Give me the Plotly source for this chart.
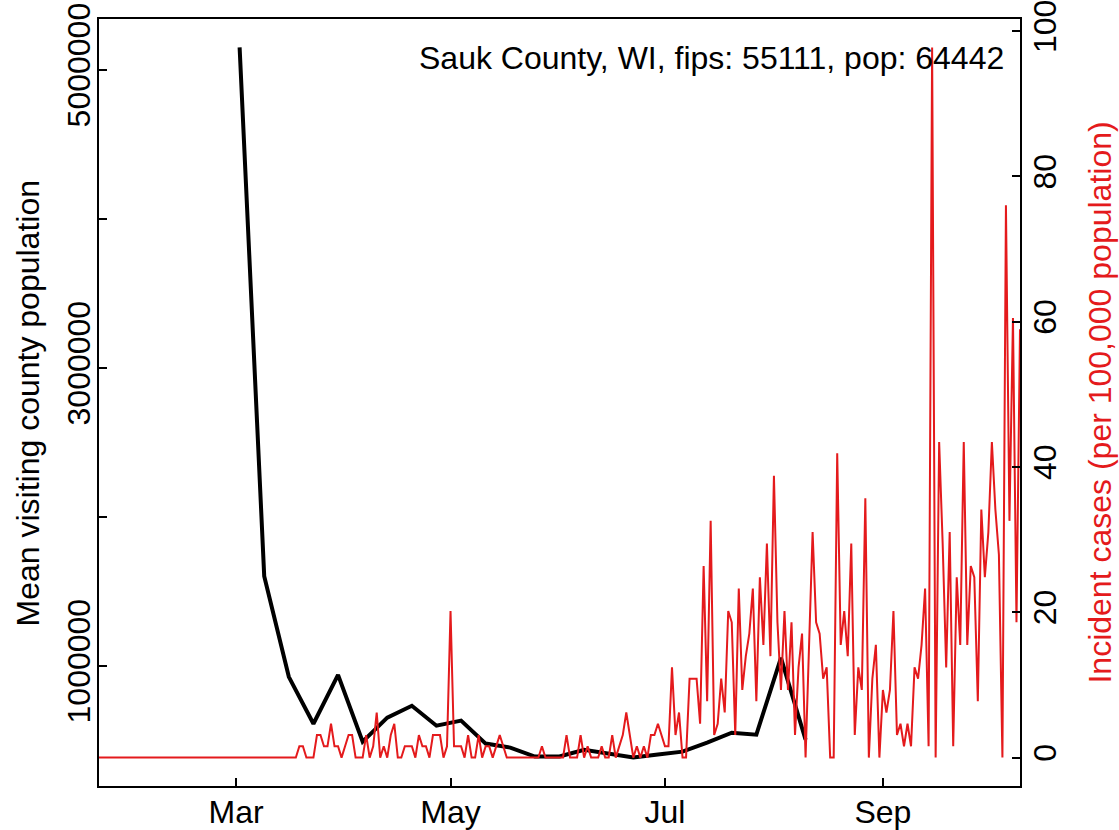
import pandas as pd
import plotly.graph_objects as go

county_label = "Sauk County, WI, fips: 55111, pop: 64442"
county_pop = 64442

# weekly mean visiting county population (week starting Monday)
visit_dates = [
    "2020-03-02", "2020-03-09", "2020-03-16", "2020-03-23", "2020-03-30",
    "2020-04-06", "2020-04-13", "2020-04-20", "2020-04-27", "2020-05-04",
    "2020-05-11", "2020-05-18", "2020-05-25", "2020-06-01", "2020-06-08",
    "2020-06-15", "2020-06-22", "2020-06-29", "2020-07-06", "2020-07-13",
    "2020-07-20", "2020-07-27", "2020-08-03", "2020-08-10",
]
visit_pop = [
    5151000, 1603000, 927000, 612000, 940000,
    492000, 653000, 733000, 599000, 633000,
    479000, 452000, 392000, 392000, 438000,
    412000, 385000, 405000, 425000, 485000,
    552000, 539000, 1054000, 505000,
]

# daily new cases, 2020-01-22 .. 2020-10-10
case_start = "2020-01-22"
cases_jan = [0, 0, 0, 0, 0, 0, 0, 0, 0, 0]
cases_feb = [0, 0, 0, 0, 0, 0, 0, 0, 0, 0, 0, 0, 0, 0, 0,
             0, 0, 0, 0, 0, 0, 0, 0, 0, 0, 0, 0, 0, 0]
cases_mar = [0, 0, 0, 0, 0, 0, 0, 0, 0, 0, 0, 0, 0, 0, 0, 0, 0, 0,
             1, 1, 0, 0, 0, 2, 2, 1, 1, 3, 1, 1, 0]
cases_apr = [1, 2, 2, 0, 0, 0, 2, 0, 1, 4, 0, 1, 0, 2, 3,
             0, 0, 1, 1, 1, 0, 2, 1, 1, 0, 2, 2, 2, 0, 1]
cases_may = [13, 1, 1, 1, 0, 2, 0, 0, 2, 0, 1, 1, 0, 1, 2, 1,
             0, 0, 0, 0, 0, 0, 0, 0, 0, 0, 1, 0, 0, 0, 0]
cases_jun = [0, 0, 2, 0, 0, 0, 2, 0, 1, 0, 0, 0, 1, 0, 0,
             2, 0, 1, 2, 4, 2, 0, 1, 0, 1, 0, 2, 2, 3, 2]
cases_jul = [1, 1, 8, 2, 4, 0, 0, 7, 7, 7, 3, 17, 5, 21, 2, 3,
             7, 4, 13, 12, 2, 15, 6, 9, 11, 15, 5, 16, 10, 19, 9]
cases_aug = [25, 12, 6, 13, 6, 12, 2, 8, 11, 0, 10, 20, 12, 11, 7, 8,
             0, 0, 27, 10, 13, 9, 19, 2, 8, 6, 23, 0, 7, 10, 0]
cases_sep = [6, 4, 6, 13, 2, 3, 1, 3, 1, 8, 7, 10, 15, 1, 63,
             0, 28, 19, 8, 20, 1, 16, 10, 28, 10, 17, 16, 5, 22, 16]
cases_oct = [20, 28, 22, 18, 0, 49, 21, 39, 12, 38]

month_ticks = ["2020-03-01", "2020-05-01", "2020-07-01", "2020-09-01"]
month_labels = ["Mar", "May", "Jul", "Sep"]
left_ticks = [1000000, 2000000, 3000000, 4000000, 5000000]
left_labels = ["1000000", "", "3000000", "", "5000000"]
right_ticks = [0, 20, 40, 60, 80, 100]

daily_cases = (cases_jan + cases_feb + cases_mar + cases_apr + cases_may
               + cases_jun + cases_jul + cases_aug + cases_sep + cases_oct)
case_dates = pd.date_range(case_start, periods=len(daily_cases), freq="D")
incidence = [c * 100000 / county_pop for c in daily_cases]

# R-style 4% padding on the y ranges
lo, hi = min(visit_pop), max(visit_pop)
pad = 0.04 * (hi - lo)
inc_pad = 0.04 * max(incidence)

red = "#E41A1C"
font = "Liberation Sans"
fs = 32

fig = go.Figure()
fig.add_trace(go.Scatter(
    x=visit_dates, y=visit_pop, mode="lines",
    line=dict(color="black", width=4), yaxis="y", showlegend=False,
))
fig.add_trace(go.Scatter(
    x=case_dates, y=incidence, mode="lines",
    line=dict(color=red, width=2), yaxis="y2", showlegend=False,
))

axis_common = dict(
    ticks="inside", ticklen=8, tickwidth=2, tickcolor="black",
    showline=True, linecolor="black", linewidth=2,
    showgrid=False, zeroline=False, automargin=False,
)

fig.update_layout(
    width=1119, height=830,
    margin=dict(l=99, r=99, t=19, b=44),
    paper_bgcolor="white", plot_bgcolor="white",
    font=dict(family=font, size=fs, color="black"),
    xaxis=dict(
        type="date", range=[case_dates[0], case_dates[-1]],
        tickvals=month_ticks, ticktext=month_labels,
        mirror=True, ticklabelstandoff=-3, **axis_common,
    ),
    yaxis=dict(
        range=[lo - pad, hi + pad],
        tickvals=left_ticks, ticktext=left_labels, tickangle=-90,
        ticklabelstandoff=-6, ticklabeloverflow="allow", **axis_common,
    ),
    yaxis2=dict(
        overlaying="y", side="right",
        range=[-inc_pad, max(incidence) + inc_pad],
        tickvals=right_ticks, tickangle=-90,
        ticklabelstandoff=-4, ticklabeloverflow="allow", **axis_common,
    ),
    annotations=[
        dict(text=county_label, xref="paper", yref="paper",
             x=0.9848, y=0.949, xanchor="right", yanchor="middle",
             showarrow=False, font=dict(size=fs)),
        dict(text="Mean visiting county population", xref="paper", yref="paper",
             x=-0.0771, y=0.5, xanchor="center", yanchor="middle",
             textangle=-90, showarrow=False, font=dict(size=fs)),
        dict(text="Incident cases (per 100,000 population)", xref="paper", yref="paper",
             x=1.0858, y=0.5, xanchor="center", yanchor="middle",
             textangle=-90, showarrow=False, font=dict(size=fs, color=red)),
    ],
)

# drop the browser's default body margin so the figure sits at the page corner
fig.write_html("out.html", config={"displayModeBar": False},
               post_script="document.body.style.margin='0';")
